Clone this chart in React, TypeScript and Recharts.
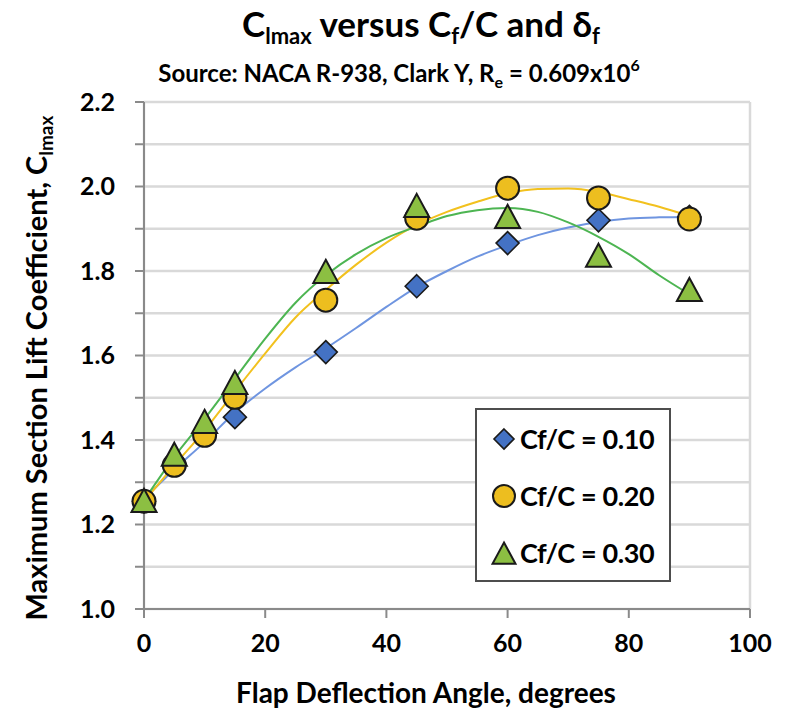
import React from 'react';
import {
  ComposedChart, Line, Scatter, XAxis, YAxis, CartesianGrid, Legend,
} from 'recharts';

// ---- data ----
const xTicks = [0, 20, 40, 60, 80, 100];
const xGridTicks = [0, 10, 20, 30, 40, 50, 60, 70, 80, 90, 100];
const yTicks = [1.0, 1.1, 1.2, 1.3, 1.4, 1.5, 1.6, 1.7, 1.8, 1.9, 2.0, 2.1, 2.2];

const seriesNames = ['Cf/C = 0.10', 'Cf/C = 0.20', 'Cf/C = 0.30'];

const blueAngles = [0, 5, 15, 30, 45, 60, 75, 90];
const blueCl = [1.255, 1.345, 1.454, 1.608, 1.764, 1.866, 1.92, 1.928];

const yellowAngles = [0, 5, 10, 15, 30, 45, 60, 75, 90];
const yellowCl = [1.255, 1.34, 1.411, 1.501, 1.731, 1.925, 1.996, 1.973, 1.923];

const greenAngles = [0, 5, 10, 15, 30, 45, 60, 75, 90];
const greenCl = [1.255, 1.364, 1.442, 1.534, 1.797, 1.953, 1.927, 1.835, 1.754];

// trendline values
const trendAngles = [0, 5, 10, 15, 20, 25, 30, 35, 40, 45, 50, 55, 60, 65, 70, 75, 80, 85, 90];
const blueTrend = [1.26, 1.33, 1.395, 1.465, 1.522, 1.572, 1.617, 1.665, 1.715, 1.762, 1.80, 1.834, 1.861, 1.885, 1.903, 1.916, 1.924, 1.927, 1.928];
const yellowTrend = [1.255, 1.34, 1.423, 1.515, 1.605, 1.69, 1.755, 1.815, 1.867, 1.909, 1.94, 1.964, 1.984, 1.994, 1.995, 1.987, 1.97, 1.952, 1.93];
const greenTrend = [1.257, 1.36, 1.45, 1.545, 1.64, 1.725, 1.79, 1.84, 1.878, 1.905, 1.93, 1.944, 1.949, 1.94, 1.915, 1.881, 1.84, 1.79, 1.745];

const zip = (xs: number[], ys: number[]) => xs.map((x, i) => ({ x, y: ys[i] }));

const bluePts = zip(blueAngles, blueCl);
const yellowPts = zip(yellowAngles, yellowCl);
const greenPts = zip(greenAngles, greenCl);
const blueLine = zip(trendAngles, blueTrend);
const yellowLine = zip(trendAngles, yellowTrend);
const greenLine = zip(trendAngles, greenTrend);

const FONT = 'Lato, "Open Sans", sans-serif';
const BLUE_FILL = '#4472C4';
const YELLOW_FILL = '#EDBE1F';
const GREEN_FILL = '#8CBF42';
const BLUE_LINE = '#6F95E0';
const YELLOW_LINE = '#F2C11E';
const GREEN_LINE = '#4DB552';
const MARK_STROKE = '#1a1a1a';

const DiamondPath = ({ cx, cy, s = 11.5 }: any) => (
  <path d={`M${cx},${cy - s}L${cx + s},${cy}L${cx},${cy + s}L${cx - s},${cy}Z`}
    fill={BLUE_FILL} stroke={MARK_STROKE} strokeWidth={1.6} />
);
const CirclePath = ({ cx, cy, r = 11.5 }: any) => (
  <circle cx={cx} cy={cy} r={r} fill={YELLOW_FILL} stroke={MARK_STROKE} strokeWidth={2} />
);
const TrianglePath = ({ cx, cy, s = 12.5 }: any) => (
  <path d={`M${cx},${cy - s}L${cx + s},${cy + s * 0.85}L${cx - s},${cy + s * 0.85}Z`}
    fill={GREEN_FILL} stroke={MARK_STROKE} strokeWidth={2} strokeLinejoin="miter" />
);

const renderDiamond = (p: any) => <DiamondPath cx={p.cx} cy={p.cy} />;
const renderCircle = (p: any) => <CirclePath cx={p.cx} cy={p.cy} />;
const renderTriangle = (p: any) => <TrianglePath cx={p.cx} cy={p.cy} />;

const LegendBox = () => {
  const markers = [
    <DiamondPath cx={13} cy={14} s={10} />,
    <CirclePath cx={13} cy={14} r={11} />,
    <TrianglePath cx={13} cy={15} s={11.5} />,
  ];
  return (
    <div style={{
      boxSizing: 'border-box', width: 196, height: 174, border: '2px solid #4d4d4d',
      background: '#fff', paddingTop: 0, paddingLeft: 14,
    }}>
      {seriesNames.map((n) => (
        <div key={n} style={{ display: 'flex', alignItems: 'center', height: 57 }}>
          <svg width={28} height={28} style={{ display: 'block' }}>{/* marker */}</svg>
          <span style={{ fontFamily: FONT, fontWeight: 700, fontSize: 27, color: '#000', marginLeft: 1, letterSpacing: -0.4, whiteSpace: 'nowrap' }}>{n}</span>
        </div>
      )).map((el, i) => React.cloneElement(el, {}, [
        <svg key="m" width={28} height={28} style={{ display: 'block', flex: 'none' }}>{markers[i]}</svg>,
        el.props.children[1],
      ]))}
    </div>
  );
};

const yFmt = (v: number) => (Math.round(v * 10) % 2 === 0 ? v.toFixed(1) : '');

export default function App() {
  return (
    <div style={{ position: 'absolute', left: 0, top: 0, width: 785, height: 714, background: '#fff' }}>
      <ComposedChart width={785} height={714} margin={{ top: 102, right: 35, bottom: 75, left: 0 }}>
        <CartesianGrid xAxisId="grid" stroke="#d9d9d9" strokeWidth={2.5} />
        <XAxis xAxisId="grid" type="number" dataKey="x" domain={[0, 100]} ticks={xGridTicks} hide />
        <XAxis
          type="number" dataKey="x" domain={[0, 100]} ticks={xTicks} interval={0} height={30}
          axisLine={{ stroke: '#8a8a8a', strokeWidth: 2 }}
          tickLine={{ stroke: '#8a8a8a', strokeWidth: 2 }} tickSize={9} tickMargin={16}
          tick={{ fontFamily: FONT, fontWeight: 700, fontSize: 25, fill: '#000' }}
        />
        <YAxis
          type="number" dataKey="y" domain={[1.0, 2.2]} ticks={yTicks} interval={0} width={144}
          tickFormatter={yFmt}
          axisLine={{ stroke: '#8a8a8a', strokeWidth: 2 }}
          tickLine={{ stroke: '#8a8a8a', strokeWidth: 2 }} tickSize={9} tickMargin={20}
          tick={{ fontFamily: FONT, fontWeight: 700, fontSize: 25, fill: '#000' }}
        />
        <Scatter name={seriesNames[0]} data={bluePts} shape={renderDiamond} isAnimationActive={false} />
        <Scatter name={seriesNames[1]} data={yellowPts} shape={renderCircle} isAnimationActive={false} />
        <Scatter name={seriesNames[2]} data={greenPts} shape={renderTriangle} isAnimationActive={false} />
        <Line data={blueLine} dataKey="y" type="monotone" stroke={BLUE_LINE} strokeWidth={2} dot={false} activeDot={false} legendType="none" isAnimationActive={false} />
        <Line data={yellowLine} dataKey="y" type="monotone" stroke={YELLOW_LINE} strokeWidth={2} dot={false} activeDot={false} legendType="none" isAnimationActive={false} />
        <Line data={greenLine} dataKey="y" type="monotone" stroke={GREEN_LINE} strokeWidth={2} dot={false} activeDot={false} legendType="none" isAnimationActive={false} />
        <Legend
          layout="vertical" align="center" verticalAlign="middle"
          content={() => <LegendBox />}
          wrapperStyle={{ left: 475, top: 408, width: 196, height: 174 }}
        />
        <text x={421} y={37} textAnchor="middle" fontFamily={FONT} fontWeight={700} fontSize={35} fill="#000">
          C<tspan fontSize={22} dy={7}>lmax</tspan>
          <tspan dy={-7}> versus C</tspan><tspan fontSize={22} dy={7}>f</tspan>
          <tspan dy={-7}>/C and δ</tspan><tspan fontSize={22} dy={7}>f</tspan>
        </text>
        <text x={399} y={82} textAnchor="middle" fontFamily={FONT} fontWeight={700} fontSize={24} fill="#000">
          Source: NACA R-938, Clark Y, R<tspan fontSize={16} dy={6}>e</tspan>
          <tspan dy={-6}> = 0.609x10</tspan><tspan fontSize={16} dy={-11}>6</tspan>
        </text>
        <text x={426} y={703} textAnchor="middle" fontFamily={FONT} fontWeight={700} fontSize={28} fill="#000">
          Flap Deflection Angle, degrees
        </text>
        <text x={47} y={368} transform="rotate(-90 47 368)" textAnchor="middle" fontFamily={FONT} fontWeight={700} fontSize={29} fill="#000">
          Maximum Section Lift Coefficient,  C<tspan fontSize={19} dy={6}>lmax</tspan>
        </text>
      </ComposedChart>
    </div>
  );
}
